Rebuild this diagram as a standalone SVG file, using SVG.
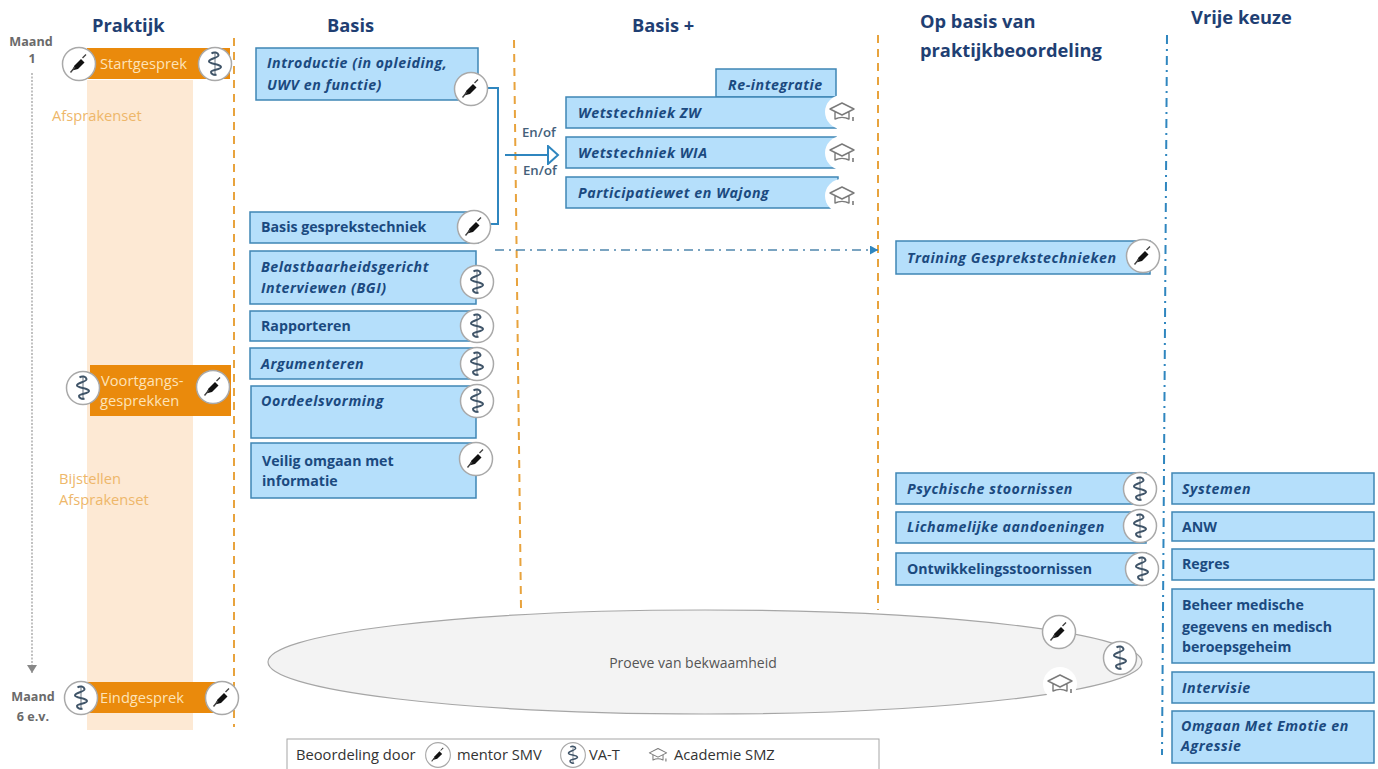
<svg xmlns="http://www.w3.org/2000/svg" width="1378" height="769" viewBox="0 0 1378 769">
<style>
text{font-family:"Open Sans","Liberation Sans",sans-serif}
.h{font-size:18.3px;font-weight:700;fill:#1f3f73}
.b{fill:#b5dffb;stroke:#3f86b5;stroke-width:1.5}
.t{font-size:14.2px;font-weight:700;fill:#1b4a80}
.i{font-style:italic;font-size:14.2px;letter-spacing:.55px}
.o{fill:#ea8a0c}
.w{font-size:14.7px;fill:#fde3b8}
.a{font-size:14.7px;fill:#eeb76a}
.m{font-size:12.6px;font-weight:700;fill:#6a6a6a;text-anchor:middle}
.e{font-size:13.2px;font-weight:600;fill:#44607a}
.l{font-size:14.7px;fill:#333}
.r{fill:#fff;stroke:#a9a9a9;stroke-width:1.5}
.n{fill:#fff}
.d{fill:none;stroke:#e8a33d;stroke-width:2;stroke-dasharray:8 6}
.dd{fill:none;stroke:#2f86bf;stroke-width:2;stroke-dasharray:9 5 2 5}
.thin{stroke-width:1.4;stroke:#4f86ad}
</style>
<defs>
<g id="syr"><circle r="16.5" class="r"/><path d="M-7 6.5L-4.5 1.5L2-5L5.5-1.5L-1 5Z" fill="#111"/><path d="M3.5-6L7-9.5M-4 3L-8.5 8.5" stroke="#444" stroke-width="1.4" fill="none"/></g>
<g id="asc"><circle r="16.5" class="r"/><path d="M0-12V12" stroke="#8a939c" stroke-width="1.3"/><path d="M-3.5-10.5C-1-12.5 3-11.5 3.5-9C4-6-6-5.5-6-2.5C-6 0 6 0 6 3C6 6-4 5.5-4 8C-4 10-1 11.5 1.5 10.5" fill="none" stroke="#3f5468" stroke-width="2"/></g>
<g id="cap"><circle r="17" class="n"/><path d="M-12-3L0-9L12-3L0 3ZM-7 0V7C-3 5 3 5 7 7V0" fill="#fff" stroke="#7a7a7a" stroke-width="1.4" stroke-linejoin="round"/><path d="M11 5V9" stroke="#7a7a7a" stroke-width="1.6"/></g>
<marker id="hollow" markerWidth="14" markerHeight="20" refX="12" refY="10" orient="auto" markerUnits="userSpaceOnUse"><path d="M2 1L12 10L2 19Z" fill="#fff" stroke="#2f86bf" stroke-width="2"/></marker>
<marker id="solid" markerWidth="9" markerHeight="9" refX="8" refY="4.5" orient="auto" markerUnits="userSpaceOnUse"><path d="M0 0L8 4.5L0 9Z" fill="#2f86bf"/></marker>
<marker id="gray" markerWidth="10" markerHeight="9" refX="5" refY="8" orient="0" markerUnits="userSpaceOnUse"><path d="M0 0H10L5 8Z" fill="#888"/></marker>
</defs>

<rect x="87" y="80" width="106" height="650" fill="#fde9d4"/>
<text class="h" x="92" y="32">Praktijk</text>
<text class="h" x="327" y="32">Basis</text>
<text class="h" x="632" y="32">Basis +</text>
<text class="h" x="920" y="28">Op basis van</text>
<text class="h" x="920" y="57">praktijkbeoordeling</text>
<text class="h" x="1191" y="24">Vrije keuze</text>
<text class="m" x="31" y="46">Maand</text>
<text class="m" x="32" y="63">1</text>
<text class="m" x="33" y="701">Maand</text>
<text class="m" x="33" y="721">6 e.v.</text>
<text class="a" x="52" y="121">Afsprakenset</text>
<text class="a" x="59" y="484">Bijstellen</text>
<text class="a" x="59" y="505">Afsprakenset</text>

<g id="connectors">
<path d="M32 73V673" stroke="#999" stroke-width="1.2" stroke-dasharray="2 1.5" marker-end="url(#gray)" fill="none"/>
<path class="d" d="M234 38V727"/>
<path class="d" d="M514 40L521 608"/>
<path class="d" d="M878 35V610"/>
<path class="dd" d="M1167 35L1162 755"/>
<path d="M485 88H498V224H490" fill="none" stroke="#2f86bf" stroke-width="2"/>
<path d="M505 155H558" fill="none" stroke="#2f86bf" stroke-width="2" marker-end="url(#hollow)"/>
<path class="dd thin" d="M495 250H878" marker-end="url(#solid)"/>
<text class="e" x="522" y="137">En/of</text>
<text class="e" x="523" y="175">En/of</text>
</g>

<g id="startgesprek"><rect class="o" x="87" y="48" width="143" height="31"/><text class="w" x="100" y="69">Startgesprek</text><use href="#syr" x="79" y="64"/><use href="#asc" x="215" y="64"/></g>
<g id="voortgang"><rect class="o" x="90" y="365" width="141" height="51"/><text class="w" x="101" y="386">Voortgangs-</text><text class="w" x="100" y="406">gesprekken</text><use href="#asc" x="83" y="388"/><use href="#syr" x="213" y="387"/></g>
<g id="eindgesprek"><rect class="o" x="82" y="682" width="138" height="31"/><text class="w" x="100" y="703">Eindgesprek</text><use href="#asc" x="81" y="698"/><use href="#syr" x="222" y="698"/></g>

<g id="introductie"><rect class="b" x="256" y="48" width="222" height="52"/><text class="t i" x="267" y="68">Introductie (in opleiding,</text><text class="t i" x="267" y="90">UWV en functie)</text><use href="#syr" x="471" y="89"/></g>
<g id="basisgesprek"><rect class="b" x="250" y="212" width="228" height="31"/><text class="t" x="261" y="232">Basis gesprekstechniek</text><use href="#syr" x="474" y="227"/></g>
<g id="bgi"><rect class="b" x="250" y="251" width="226" height="53"/><text class="t i" x="261" y="272">Belastbaarheidsgericht</text><text class="t i" x="261" y="293">Interviewen (BGI)</text><use href="#asc" x="477" y="282"/></g>
<g id="rapporteren"><rect class="b" x="250" y="311" width="226" height="30"/><text class="t" x="261" y="331">Rapporteren</text><use href="#asc" x="477" y="326"/></g>
<g id="argumenteren"><rect class="b" x="250" y="348" width="226" height="31"/><text class="t i" x="261" y="369">Argumenteren</text><use href="#asc" x="477" y="364"/></g>
<g id="oordeel"><rect class="b" x="251" y="386" width="225" height="52"/><text class="t i" x="261" y="406">Oordeelsvorming</text><use href="#asc" x="477" y="401"/></g>
<g id="veilig"><rect class="b" x="251" y="443" width="225" height="55"/><text class="t" x="262" y="466">Veilig omgaan met</text><text class="t" x="262" y="486">informatie</text><use href="#syr" x="476" y="459"/></g>

<g id="reintegratie"><rect class="b" x="716" y="69" width="120" height="28"/><text class="t i" x="728" y="90">Re-integratie</text></g>
<g id="zw"><rect class="b" x="566" y="97" width="270" height="31"/><text class="t i" x="578" y="118">Wetstechniek ZW</text><use href="#cap" x="842" y="112"/></g>
<g id="wia"><rect class="b" x="566" y="137" width="270" height="31"/><text class="t i" x="578" y="158">Wetstechniek WIA</text><use href="#cap" x="842" y="153"/></g>
<g id="participatie"><rect class="b" x="566" y="177" width="272" height="31"/><text class="t i" x="578" y="198">Participatiewet en Wajong</text><use href="#cap" x="842" y="196"/></g>

<g id="training"><rect class="b" x="896" y="241" width="254" height="33"/><text class="t i" x="907" y="263">Training Gesprekstechnieken</text><use href="#syr" x="1143" y="256"/></g>
<g id="psychisch"><rect class="b" x="896" y="473" width="250" height="31"/><text class="t i" x="907" y="494">Psychische stoornissen</text><use href="#asc" x="1140" y="489"/></g>
<g id="lichamelijk"><rect class="b" x="896" y="512" width="250" height="31"/><text class="t i" x="907" y="532">Lichamelijke aandoeningen</text><use href="#asc" x="1140" y="526"/></g>
<g id="ontwikkeling"><rect class="b" x="896" y="553" width="250" height="32"/><text class="t" x="907" y="574">Ontwikkelingsstoornissen</text><use href="#asc" x="1142" y="569"/></g>

<g id="systemen"><rect class="b" x="1172" y="473" width="202" height="31"/><text class="t i" x="1182" y="494">Systemen</text></g>
<g id="anw"><rect class="b" x="1172" y="512" width="202" height="29"/><text class="t" x="1182" y="532">ANW</text></g>
<g id="regres"><rect class="b" x="1172" y="549" width="202" height="31"/><text class="t" x="1182" y="569">Regres</text></g>
<g id="beheer"><rect class="b" x="1172" y="589" width="202" height="74"/><text class="t" x="1182" y="610">Beheer medische</text><text class="t" x="1182" y="632">gegevens en medisch</text><text class="t" x="1182" y="652">beroepsgeheim</text></g>
<g id="intervisie"><rect class="b" x="1172" y="672" width="202" height="31"/><text class="t i" x="1182" y="693">Intervisie</text></g>
<g id="omgaan"><rect class="b" x="1172" y="711" width="202" height="52"/><text class="t i" x="1181" y="731">Omgaan Met Emotie en</text><text class="t i" x="1181" y="751">Agressie</text></g>

<g id="proeve"><ellipse cx="705" cy="662" rx="437" ry="52" fill="#f3f3f3" stroke="#a6a6a6" stroke-width="1.2"/><text x="693" y="668" font-size="14" fill="#555" text-anchor="middle">Proeve van bekwaamheid</text><use href="#syr" x="1059" y="632"/><use href="#asc" x="1120" y="658"/><use href="#cap" x="1060" y="684"/></g>

<g id="legenda"><rect x="287" y="739" width="592" height="34" fill="#fff" stroke="#a6a6a6"/><text class="l" x="296" y="760">Beoordeling door</text><use href="#syr" transform="translate(438 755) scale(.75)"/><text class="l" x="457" y="760">mentor SMV</text><use href="#asc" transform="translate(573 755) scale(.75)"/><text class="l" x="589" y="760">VA-T</text><use href="#cap" transform="translate(658 755) scale(.72)"/><text class="l" x="674" y="760">Academie SMZ</text></g>
</svg>
